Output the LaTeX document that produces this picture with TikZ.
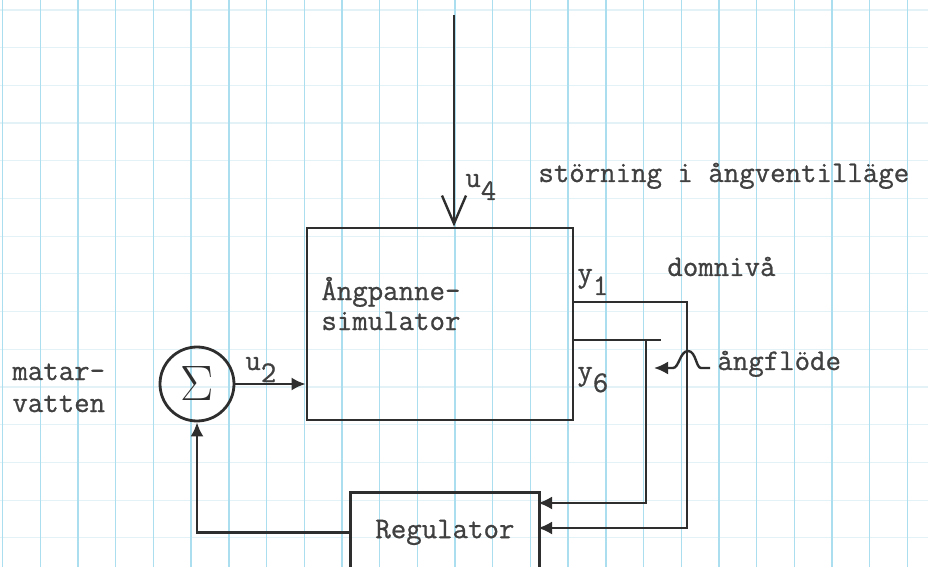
\documentclass[tikz,border=0pt]{standalone}
\usepackage{fontspec}
\setmonofont{Latin Modern Mono}[FakeBold=0.8]
\usepackage{tikz}
\usetikzlibrary{arrows.meta}
\definecolor{GridBlue}{HTML}{ABDEEF}
\definecolor{GridPale}{HTML}{E2F2F7}
\definecolor{InkDark}{gray}{0.18}
\definecolor{TypeGray}{gray}{0.25}

\begin{document}
\begin{tikzpicture}[x=0.5pt,y=-0.5pt,
    every node/.style={font=\ttfamily\fontsize{15}{15}\selectfont, text=TypeGray, inner sep=0pt},
    block/.style={draw=InkDark, line width=1.4pt},
    sig/.style={draw=InkDark, line width=1.2pt},
    tip/.style={-{Latex[length=7pt,width=6.5pt]}},
    barb/.style={-{Straight Barb[length=14pt,width=12pt,line width=1.2pt]}}]
  \useasboundingbox (0,0) rectangle (928,567);
  \fill[white] (0,0) rectangle (928,567);
  \foreach \y in {0,...,14}
    \draw[GridPale, line width=0.6pt] (0,10+37.7*\y) -- (928,10+37.7*\y);
  \foreach \x in {0,...,24}
    \draw[GridBlue, line width=0.7pt] (2.6+37.7*\x,0) -- (2.6+37.7*\x,567);

  \node[block, minimum width=133pt, minimum height=96pt] (sim) at (440,324) {};
  \node[anchor=base west, align=left] (simtext) at (321,330) {Ångpanne-\\simulator};
  \node[block, circle, minimum size=37pt, text=InkDark] (sum) at (197,384) {\fontsize{25}{25}\selectfont$\Sigma$};
  \node[block, minimum width=94.5pt, minimum height=40pt, anchor=north west] (reg) at (349,491) {Regulator};

  \node[anchor=base west, align=left, font=\ttfamily\fontsize{15}{16}\selectfont] (feed) at (12,412) {matar-\\vatten};
  \node[anchor=base west] (dist) at (538,182) {störning i ångventilläge};
  \node[anchor=base west] (u4lab) at (465,187) {u\raisebox{-6.5pt}{4}};
  \node[anchor=base west] (u2lab) at (245,370) {u\raisebox{-6pt}{2}};
  \node[anchor=base west] (y1lab) at (577,282) {y\raisebox{-6.5pt}{1}};
  \node[anchor=base west] (y6lab) at (577,380) {y\raisebox{-6pt}{6}};
  \node[anchor=base west] (level) at (667,276) {domnivå};
  \node[anchor=base west] (flow) at (717,370) {ångflöde};

  \coordinate (u4top) at (454,15);
  \coordinate (y1out) at (573,302);
  \coordinate (y1turn) at (687,302);
  \coordinate (y6out) at (573,340);
  \coordinate (y6end) at (661,340);
  \coordinate (y6turn) at (646,340);
  \coordinate (regin1) at (538,503);
  \coordinate (regin2) at (538,528);
  \coordinate (flowtip) at (654,368);

  \draw[sig, barb] (u4top) -- (u4top |- sim.north);
  \draw[sig, tip] (sum.east) -- (sum.east -| sim.west);
  \draw[sig, tip] (reg.west) -| (sum.south);
  \draw[sig, tip] (y1out) -- (y1turn) |- (regin2);
  \draw[sig] (y6out) -- (y6end);
  \draw[sig, tip] (y6turn) |- (regin1);
  \draw[sig, tip] (710,368) -- (701,368) .. controls (696,368) and (696,351) .. (688,351)
    .. controls (680,351) and (679,368) .. (673,368) -- (flowtip);
\end{tikzpicture}
\end{document}
